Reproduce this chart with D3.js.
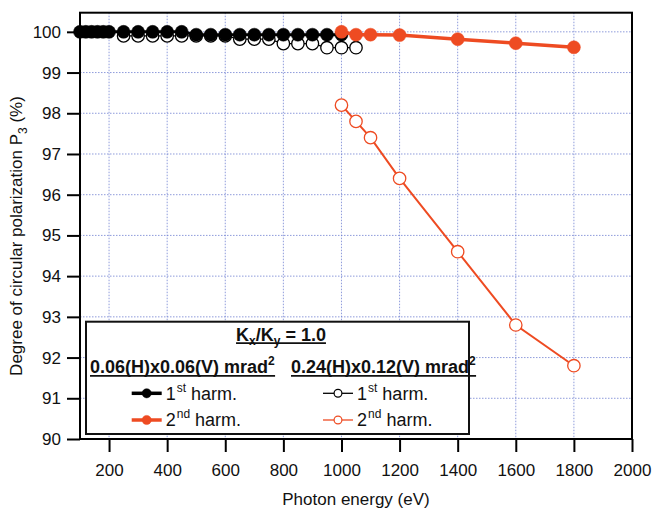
<!DOCTYPE html>
<html>
<head>
<meta charset="utf-8">
<script src="https://cdn.jsdelivr.net/npm/d3@7"></script>
<style>
  body { margin: 0; background: #fff; }
  svg { display: block; font-family: "Liberation Sans", Arial, Helvetica, sans-serif; }
</style>
</head>
<body>
<svg id="graf"></svg>
<script>
// ejes
const xTicks = [200, 400, 600, 800, 1000, 1200, 1400, 1600, 1800, 2000]
const yTicks = [90, 91, 92, 93, 94, 95, 96, 97, 98, 99, 100]

// 0.06(H)x0.06(V) mrad2, 1st harm.
const energiaFina1 = [100, 120, 140, 160, 180, 200, 250, 300, 350, 400, 450, 500, 550, 600, 650, 700, 750, 800, 850, 900, 950, 1000]
const p3Fina1 = [100, 100, 100, 100, 100, 100, 100, 100, 100, 100, 100, 99.93, 99.93, 99.93, 99.93, 99.93, 99.93, 99.93, 99.93, 99.93, 99.93, 99.93]

// 0.24(H)x0.12(V) mrad2, 1st harm.
const energiaAncha1 = [250, 300, 350, 400, 450, 500, 550, 600, 650, 700, 750, 800, 850, 900, 950, 1000, 1050]
const p3Ancha1 = [99.9, 99.9, 99.9, 99.9, 99.9, 99.9, 99.9, 99.9, 99.82, 99.82, 99.82, 99.71, 99.71, 99.71, 99.61, 99.61, 99.61]

// 2nd harm.
const energia2 = [1000, 1050, 1100, 1200, 1400, 1600, 1800]
const p3Fina2 = [100, 99.93, 99.93, 99.92, 99.82, 99.72, 99.62]
const p3Ancha2 = [98.2, 97.8, 97.4, 96.4, 94.6, 92.8, 91.8]

function graficar() {
  let width = 652
  let height = 509
  let rojo = '#EE4B22'
  let izq = 80, der = 632, arriba = 12.7, abajo = 439

  let svg = d3.select('#graf')
            .attr('width', width)
            .attr('height', height)

  let x = d3.scaleLinear().domain([100, 2000]).range([izq, der])
  let y = d3.scaleLinear().domain([90, 100.47]).range([abajo, arriba])

  // rejilla punteada
  let grid = svg.append('g')
  grid.selectAll('.gx')
    .data(xTicks.filter(d => d < 2000))
    .enter().append('line')
    .attr('x1', d => x(d)).attr('x2', d => x(d))
    .attr('y1', arriba).attr('y2', abajo)
  grid.selectAll('.gy')
    .data(yTicks.filter(d => d > 90))
    .enter().append('line')
    .attr('x1', izq).attr('x2', der)
    .attr('y1', d => y(d)).attr('y2', d => y(d))
  grid.selectAll('line')
    .attr('stroke', '#6a7bd0')
    .attr('stroke-width', 1)
    .attr('stroke-dasharray', '1.5,1.5')
    .attr('opacity', 0.75)

  // ejes
  let ejeX = svg.append('g')
    .attr('transform', `translate(0, ${abajo})`)
    .call(d3.axisBottom(x).tickValues(xTicks).tickFormat(d3.format('d')).tickSize(13).tickPadding(12))
  let ejeY = svg.append('g')
    .attr('transform', `translate(${izq}, 0)`)
    .call(d3.axisLeft(y).tickValues(yTicks).tickFormat(d3.format('d')).tickSize(13).tickPadding(6))
  ;[ejeX, ejeY].forEach(e => {
    e.select('.domain').remove()
    e.selectAll('line').attr('stroke', '#000').attr('stroke-width', 2)
    e.selectAll('text').attr('font-size', 17).attr('fill', '#111')
      .style('font-family', '"Liberation Sans", Arial, sans-serif')
  })

  svg.append('rect')
    .attr('x', izq).attr('y', arriba)
    .attr('width', der - izq).attr('height', abajo - arriba)
    .attr('fill', 'none').attr('stroke', '#000').attr('stroke-width', 2)

  // titulos
  svg.append('text')
    .attr('x', (izq + der) / 2).attr('y', 505)
    .attr('text-anchor', 'middle').attr('font-size', 17).attr('fill', '#111')
    .text('Photon energy (eV)')

  let ty = svg.append('text')
    .attr('transform', 'translate(22, 236) rotate(-90)')
    .attr('text-anchor', 'middle').attr('font-size', 17).attr('fill', '#111')
  ty.append('tspan').text('Degree of circular polarization P')
  ty.append('tspan').attr('font-size', 12).attr('dy', 5).text('3')
  ty.append('tspan').attr('dy', -5).text(' (%)')

  // series
  let linea = d3.line().x(d => x(d[0])).y(d => y(d[1]))

  function serie(xs, ys, color, lleno, grosor, r) {
    let pts = xs.map((v, i) => [v, ys[i]])
    let g = svg.append('g')
    g.append('path')
      .attr('d', linea(pts))
      .attr('fill', 'none')
      .attr('stroke', color)
      .attr('stroke-width', grosor)
    g.selectAll('circle')
      .data(pts)
      .enter().append('circle')
      .attr('cx', d => x(d[0]))
      .attr('cy', d => y(d[1]))
      .attr('r', r)
      .attr('fill', lleno ? color : '#fff')
      .attr('stroke', color)
      .attr('stroke-width', lleno ? 0.5 : 1.3)
  }

  serie(energiaAncha1, p3Ancha1, '#000', false, 1.3, 6.2)
  serie(energiaFina1, p3Fina1, '#000', true, 3, 6.5)
  serie(energia2, p3Ancha2, rojo, false, 2, 6.2)
  serie(energia2, p3Fina2, rojo, true, 3.5, 6.5)

  // leyenda
  let ley = svg.append('g')
  ley.append('rect')
    .attr('x', 86).attr('y', 321.7).attr('width', 383).attr('height', 112.3)
    .attr('fill', '#fff').attr('stroke', '#111').attr('stroke-width', 2)

  function subrayar(t) {
    let b = t.node().getBBox()
    let yb = +t.attr('y') + 2.5
    ley.append('line')
      .attr('x1', b.x).attr('x2', b.x + b.width)
      .attr('y1', yb).attr('y2', yb)
      .attr('stroke', '#111').attr('stroke-width', 1.8)
  }

  let titulo = ley.append('text')
    .attr('x', 281).attr('y', 340.7)
    .attr('text-anchor', 'middle').attr('font-size', 18).attr('font-weight', 'bold').attr('fill', '#111')
  titulo.append('tspan').text('K')
  titulo.append('tspan').attr('font-size', 12).attr('dy', 4).text('x')
  titulo.append('tspan').attr('dy', -4).text('/K')
  titulo.append('tspan').attr('font-size', 12).attr('dy', 4).text('y')
  titulo.append('tspan').attr('dy', -4).text(' = 1.0')
  subrayar(titulo)

  ;[[90, '0.06(H)x0.06(V) mrad'], [291, '0.24(H)x0.12(V) mrad']].forEach(c => {
    let t = ley.append('text')
      .attr('x', c[0]).attr('y', 373.3)
      .attr('font-size', 18).attr('font-weight', 'bold').attr('fill', '#111')
    t.append('tspan').text(c[1])
    t.append('tspan').attr('font-size', 12).attr('dy', -8).text('2')
    subrayar(t)
  })

  let filas = [
    {x0: 131.7, y0: 393.3, color: '#000', lleno: true, sup: 'st', num: '1'},
    {x0: 131.7, y0: 420, color: rojo, lleno: true, sup: 'nd', num: '2'},
    {x0: 323, y0: 393.3, color: '#000', lleno: false, sup: 'st', num: '1'},
    {x0: 323, y0: 420, color: rojo, lleno: false, sup: 'nd', num: '2'}
  ]
  filas.forEach(f => {
    ley.append('line')
      .attr('x1', f.x0).attr('x2', f.x0 + 30)
      .attr('y1', f.y0).attr('y2', f.y0)
      .attr('stroke', f.color).attr('stroke-width', f.lleno ? 3.5 : 1.3)
    ley.append('circle')
      .attr('cx', f.x0 + 15).attr('cy', f.y0)
      .attr('r', f.lleno ? 4.6 : 3.9)
      .attr('fill', f.lleno ? f.color : '#fff')
      .attr('stroke', f.color).attr('stroke-width', f.lleno ? 0.5 : 1.2)
    let t = ley.append('text')
      .attr('x', f.x0 + 34).attr('y', f.y0 + 6.3)
      .attr('font-size', 18).attr('fill', '#111')
    t.append('tspan').text(f.num)
    t.append('tspan').attr('font-size', 12).attr('dy', -8).attr('dx', 1).text(f.sup)
    t.append('tspan').attr('dy', 8).text(' harm.')
  })
}

graficar()
</script>
</body>
</html>
